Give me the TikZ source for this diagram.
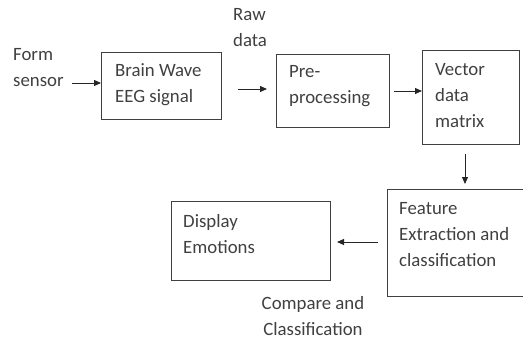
\documentclass[tikz,border=0pt]{standalone}
\usepackage{fontspec}
\setmainfont{Carlito}
\usetikzlibrary{arrows.meta}
\begin{document}
\begin{tikzpicture}[x=1pt,y=-1pt,
  box/.style={draw=black!75,line width=1.3pt,rectangle,inner sep=0pt,anchor=north west},
  txt/.style={anchor=base west,inner sep=0pt,align=left,text=black!75,font=\fontsize{18.8}{26}\selectfont},
  arr/.style={draw=black!85,line width=1pt,-{Triangle[length=7pt,width=6pt]}}]
\useasboundingbox (0,0) rectangle (523,341);
\begin{scope}
\clip (0,0) rectangle (523,341);
% boxes
\node[box,minimum width=120pt,minimum height=67pt] (b1) at (101,52) {};
\node[box,minimum width=113pt,minimum height=73pt] (b2) at (276,54) {};
\node[box,minimum width=97pt,minimum height=94pt] (b3) at (422,50) {};
\node[box,minimum width=150pt,minimum height=107pt] (b4) at (387,189) {};
\node[box,minimum width=159pt,minimum height=79pt] (b5) at (171,201) {};
\end{scope}
% texts (anchor = baseline of the last line)
\node[txt] (t0) at (13,86) {Form\\sensor};
\node[txt] (t1) at (115,102) {Brain Wave\\EEG signal};
\node[txt] (tr) at (233,46) {Raw\\data};
\node[txt] (t2) at (289,103) {Pre-\\processing};
\node[txt] (t3) at (435,127) {Vector\\data\\matrix};
\node[txt] (t4) at (399,266) {Feature\\Extraction and\\classification};
\node[txt] (t5) at (183,253) {Display\\Emotions};
\node[txt,align=center,anchor=base] (tc) at (313,335) {Compare and\\Classification};
% connectors
\coordinate (s0) at (72,83);
\coordinate (r0) at (238,89);
\coordinate (r1) at (267,89);
\draw[arr] (s0) -- (s0 -| b1.west);
\draw[arr] (r0) -- (r1);
\coordinate (p0) at (394,91);
\draw[arr] (p0) -- (p0 -| b3.west);
\coordinate (v0) at (465,154);
\coordinate (v1) at (465,184);
\draw[arr] (v0) -- (v1);
\coordinate (f0) at (378,242);
\coordinate (f1) at (337,242);
\draw[arr] (f0) -- (f1);
\end{tikzpicture}
\end{document}
